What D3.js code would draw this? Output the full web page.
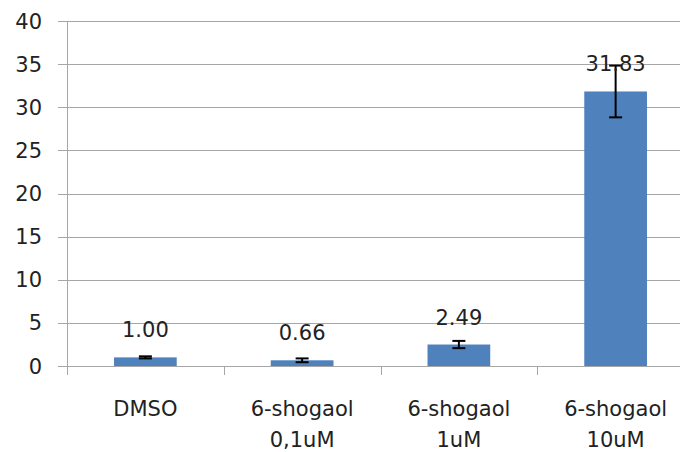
<!DOCTYPE html>
<html><head><meta charset="utf-8">
<script src="https://cdn.jsdelivr.net/npm/d3@7"></script>
<style>body{margin:0;background:#fff}svg{display:block}text{font-family:"DejaVu Sans",Verdana,sans-serif;fill:#222}</style>
</head><body>
<script>
const categories = [["DMSO"], ["6-shogaol","0,1uM"], ["6-shogaol","1uM"], ["6-shogaol","10uM"]];
const values = [1.00, 0.66, 2.49, 31.83];
const errors = [0.12, 0.22, 0.42, 3.0];
const labels = ["1.00", "0.66", "2.49", "31.83"];
const yTicks = [0, 5, 10, 15, 20, 25, 30, 35, 40];

const W = 680, H = 452;
const svg = d3.select("body").append("svg").attr("width", W).attr("height", H);
const keys = categories.map((c, i) => i);
const x = d3.scaleBand().domain(keys).range([67, 694]).paddingInner(0.6).paddingOuter(0.3);
const y = d3.scaleLinear().domain([0, 40]).range([366, 21]);
const step = x.step();
const grid = "#a6a6a6";
const px = v => Math.round(v) + 0.5;

// gridlines + left tick marks
svg.append("g").selectAll("line").data(yTicks).join("line")
  .attr("x1", 58).attr("x2", W).attr("y1", d => px(y(d))).attr("y2", d => px(y(d)))
  .attr("stroke", grid).attr("stroke-width", 1);
// y axis line
svg.append("line").attr("x1", 67.5).attr("x2", 67.5).attr("y1", px(y(40))).attr("y2", 375)
  .attr("stroke", grid);
// category boundary ticks
svg.append("g").selectAll("line").data(keys.slice(1)).join("line")
  .attr("x1", d => px(x(d) - step * 0.3)).attr("x2", d => px(x(d) - step * 0.3))
  .attr("y1", px(y(0))).attr("y2", 375).attr("stroke", grid);
// y tick labels
svg.append("g").selectAll("text").data(yTicks).join("text")
  .attr("x", 42).attr("y", d => y(d)).attr("dy", "0.36em").attr("text-anchor", "end")
  .attr("font-size", 21).text(d => d);

// bars
svg.append("g").selectAll("rect").data(values).join("rect")
  .attr("x", (d, i) => x(i)).attr("width", x.bandwidth())
  .attr("y", d => y(d)).attr("height", d => y(0) - y(d))
  .attr("fill", "#4f81bd");

// error bars
const eb = svg.append("g").attr("stroke", "#000").attr("stroke-width", 2);
values.forEach((v, i) => {
  const cx = x(i) + x.bandwidth() / 2;
  const top = y(v + errors[i]), bot = y(v - errors[i]);
  eb.append("line").attr("x1", cx).attr("x2", cx).attr("y1", top).attr("y2", bot);
  eb.append("line").attr("x1", cx - 6.5).attr("x2", cx + 6.5).attr("y1", top).attr("y2", top);
  eb.append("line").attr("x1", cx - 6.5).attr("x2", cx + 6.5).attr("y1", bot).attr("y2", bot);
});

// value labels
svg.append("g").selectAll("text").data(values).join("text")
  .attr("x", (d, i) => x(i) + x.bandwidth() / 2).attr("y", d => y(d) - 20)
  .attr("text-anchor", "middle").attr("font-size", 21).text((d, i) => labels[i]);

// category labels
const cl = svg.append("g");
categories.forEach((lines, i) => {
  const t = cl.append("text").attr("x", x(i) + x.bandwidth() / 2).attr("y", 416)
    .attr("text-anchor", "middle").attr("font-size", 21);
  lines.forEach((ln, j) => t.append("tspan").attr("x", x(i) + x.bandwidth() / 2).attr("dy", j ? 31 : 0).text(ln));
});
</script>
</body></html>
